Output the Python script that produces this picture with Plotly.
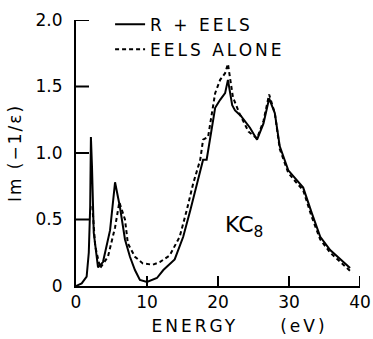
import plotly.graph_objects as go

# R + EELS (solid)
r_eels_x = [0.0, 0.8, 1.5, 1.8, 2.0, 2.1, 2.25, 2.5, 3.1, 3.8, 4.8, 5.5, 6.2, 6.9, 7.6, 8.3, 9.0, 10.0,
            11.4, 12.3, 13.9, 15.1, 16.1, 17.0, 17.9, 18.4, 18.9, 19.6, 20.3, 21.0, 21.4, 22.0, 22.4,
            23.2, 24.5, 25.5, 26.4, 27.2, 28.0, 28.7, 29.9, 31.0, 32.0, 33.2, 34.4, 35.8, 37.2, 38.6]
r_eels_y = [0.0, 0.02, 0.07, 0.25, 0.6, 1.12, 0.9, 0.4, 0.14, 0.18, 0.42, 0.78, 0.59, 0.35, 0.22, 0.12, 0.045, 0.03,
            0.06, 0.12, 0.2, 0.37, 0.57, 0.77, 0.95, 0.95, 1.1, 1.34, 1.40, 1.45, 1.55, 1.36, 1.32,
            1.28, 1.19, 1.10, 1.22, 1.41, 1.30, 1.05, 0.87, 0.80, 0.74, 0.55, 0.37, 0.27, 0.20, 0.135]

# EELS alone (dashed)
eels_x = [2.3, 2.7, 3.4, 4.5, 5.5, 6.1, 6.9, 7.3, 8.3, 9.4, 10.8, 11.8, 13.2, 14.6, 15.6, 16.5, 17.5,
          17.9, 18.6, 19.1, 19.6, 20.3, 21.0, 21.4, 22.1, 23.0, 24.3, 25.5, 26.4, 27.2, 28.0, 28.7,
          29.9, 31.0, 32.0, 33.2, 34.4, 35.8, 37.2, 38.9]
eels_y = [0.6, 0.3, 0.135, 0.22, 0.44, 0.63, 0.50, 0.32, 0.22, 0.17, 0.16, 0.18, 0.23, 0.37, 0.57, 0.77, 0.95,
          1.10, 1.12, 1.27, 1.45, 1.55, 1.60, 1.67, 1.42, 1.30, 1.16, 1.11, 1.24, 1.44, 1.30, 1.03,
          0.85, 0.78, 0.72, 0.52, 0.35, 0.25, 0.18, 0.10]

x_ticks = [0, 10, 20, 30, 40]
x_ticktext = ["0", "10", "20", "30", "40"]
y_ticks = [0, 0.5, 1.0, 1.5, 2.0]
y_ticktext = ["0", "0.5", "1.0", "1.5", "2.0"]

FONT = "DejaVu Sans"
W, H = 373, 339
ML, MR, MT, MB = 76, 13, 20, 53
PW, PH = W - ML - MR, H - MT - MB
X_RANGE = [0, 40]
Y_RANGE = [0, 2.0]
XTICK_LEN_PX, YTICK_LEN_PX = 10, 13

fig = go.Figure()
fig.add_trace(go.Scatter(x=r_eels_x, y=r_eels_y, mode="lines", name="R + EELS",
                         line=dict(color="black", width=2)))
fig.add_trace(go.Scatter(x=eels_x, y=eels_y, mode="lines", name="EELS ALONE",
                         line=dict(color="black", width=2, dash="4px,3px")))

# inward tick marks, placed from the tick arrays on the axes' own scales
xt_len = XTICK_LEN_PX * (Y_RANGE[1] - Y_RANGE[0]) / PH
yt_len = YTICK_LEN_PX * (X_RANGE[1] - X_RANGE[0]) / PW
tx, ty = [], []
for v in x_ticks[1:]:
    tx += [v, v, None]
    ty += [Y_RANGE[0], Y_RANGE[0] + xt_len, None]
for v in y_ticks[1:]:
    tx += [X_RANGE[0], X_RANGE[0] + yt_len, None]
    ty += [v, v, None]
fig.add_trace(go.Scatter(x=tx, y=ty, mode="lines", showlegend=False, hoverinfo="skip",
                         cliponaxis=False, line=dict(color="black", width=2)))

fig.update_layout(
    template="simple_white",
    width=W, height=H,
    margin=dict(l=ML, r=MR, t=MT, b=MB, autoexpand=False),
    plot_bgcolor="white", paper_bgcolor="white",
    font=dict(family=FONT, color="black", size=16),
    showlegend=True,
    legend=dict(x=0.12, y=1.05, xanchor="left", yanchor="top", bgcolor="rgba(0,0,0,0)",
                font=dict(size=17, family=FONT), tracegroupgap=0),
    annotations=[
        dict(x=23.6, y=0.45, xref="x", yref="y", text="KC<sub>8</sub>", showarrow=False,
             font=dict(size=22, family=FONT, color="black")),
        dict(x=0.575, y=-0.15, xref="paper", yref="paper", text="ENERGY\u00a0\u00a0\u00a0\u00a0 (eV)",
             showarrow=False, xanchor="center", yanchor="middle",
             font=dict(size=17, family=FONT, color="black")),
    ],
)
fig.update_xaxes(range=X_RANGE, tickmode="array", tickvals=x_ticks, ticktext=x_ticktext,
                 ticks="", showline=True, linecolor="black", linewidth=2, showgrid=False, zeroline=False,
                 tickfont=dict(size=17), ticklabelstandoff=0)
fig.update_yaxes(range=Y_RANGE, tickmode="array", tickvals=y_ticks, ticktext=y_ticktext,
                 ticks="", showline=True, linecolor="black", linewidth=2, showgrid=False, zeroline=False,
                 tickfont=dict(size=17), ticklabelstandoff=8,
                 title=dict(text="Im (\u22121/\u03b5)", font=dict(size=17), standoff=10))

post = """
document.body.style.margin='0';
document.querySelectorAll('.legend .scrollbox').forEach(function(e){ e.removeAttribute('clip-path'); });
document.querySelectorAll('text').forEach(function(t){
  var s = t.textContent;
  if (s.indexOf('ENERGY') === 0 || s === 'R + EELS' || s === 'EELS ALONE') {
    t.setAttribute('letter-spacing', '3px');
  } else if (s.indexOf('Im') === 0) {
    t.setAttribute('letter-spacing', '2px');
  }
});
"""

fig.write_html("out.html", post_script=post, config={"displayModeBar": False})
